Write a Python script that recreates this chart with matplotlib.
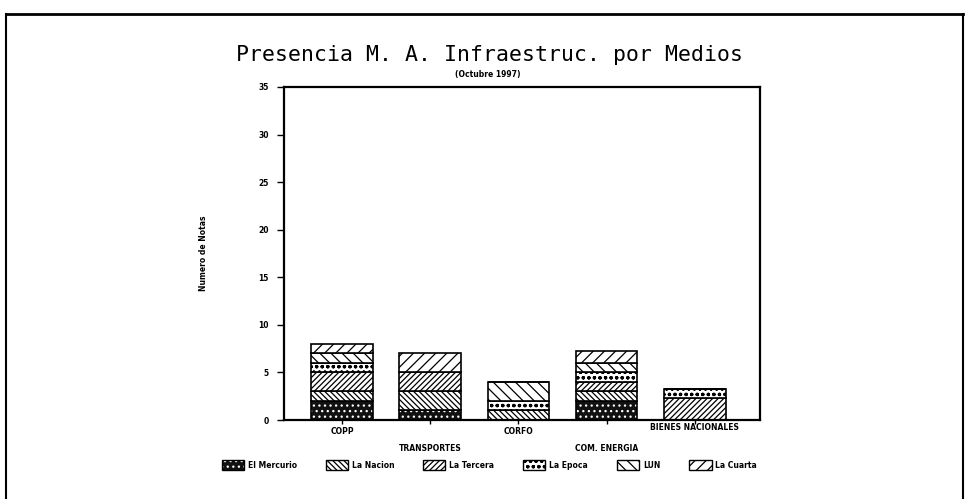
import matplotlib
matplotlib.use("Agg")
import matplotlib.pyplot as plt
from matplotlib.patches import Patch
from matplotlib.lines import Line2D
import numpy as np

categories = ["COPP", "TRANSPORTES", "CORFO", "COM. ENERGIA", "BIENES NACIONALES"]
series_names = ["El Mercurio", "La Nacion", "La Tercera", "La Epoca", "LUN", "La Cuarta"]
el_mercurio = [2, 1, 0, 2, 0]
la_nacion = [1, 2, 1, 1, 0]
la_tercera = [2, 2, 0, 1, 2.3]
la_epoca = [1, 0, 1, 1, 1]
lun = [1, 0, 2, 1, 0]
la_cuarta = [1, 2, 0, 1.3, 0]
yticks = [0, 5, 10, 15, 20, 25, 30, 35]

series = [el_mercurio, la_nacion, la_tercera, la_epoca, lun, la_cuarta]
styles = [
    dict(face="#111111", hatchcol="white", hatch="..."),
    dict(face="white", hatchcol="black", hatch="\\\\\\\\\\\\"),
    dict(face="white", hatchcol="black", hatch="//////"),
    dict(face="white", hatchcol="black", hatch="ooo"),
    dict(face="white", hatchcol="black", hatch="\\\\\\"),
    dict(face="white", hatchcol="black", hatch="///"),
]

plt.rcParams["hatch.linewidth"] = 0.9
fig = plt.figure(figsize=(9.69, 4.99), dpi=100)
ax = fig.add_axes([284/969, 1-420/499, 476/969, 333/499])

x = np.arange(len(categories))
w = 0.7
bottom = np.zeros(len(categories))
for vals, st in zip(series, styles):
    v = np.array(vals, dtype=float)
    ax.bar(x, v, w, bottom=bottom, color=st["face"], edgecolor=st["hatchcol"],
           hatch=st["hatch"], linewidth=0)
    ax.bar(x, v, w, bottom=bottom, fill=False, edgecolor="black", linewidth=1.2)
    bottom += v

ax.set_xlim(-0.66, 4.74)
ax.set_ylim(0, 35)
ax.set_yticks(yticks)
ax.set_yticklabels([str(t) for t in yticks], fontsize=5.5, fontweight="bold")
ax.tick_params(axis="y", direction="out", length=5, width=1, pad=6)
for s in ax.spines.values():
    s.set_linewidth(1.6)

ax.set_xticks(x)
ax.set_xticklabels(categories, fontsize=5.5, fontweight="bold")
ax.tick_params(axis="x", direction="out", length=3, width=1, pad=2)
for i, tick in enumerate(ax.xaxis.get_major_ticks()):
    if i % 2 == 1:
        tick.tick1line.set_markersize(15)
        tick.set_pad(14)
    elif i == 4:
        tick.set_pad(-1)

ax.set_ylabel("Numero de Notas", fontsize=5.5, fontweight="bold", labelpad=36)

fig.text(0.505, 1-55/499, "Presencia M. A. Infraestruc. por Medios",
         ha="center", va="center", fontsize=15.5, family="DejaVu Sans Mono")
fig.text(0.503, 1-75/499, "(Octubre 1997)", ha="center", va="center",
         fontsize=5.5, fontweight="bold")

handles = []
for name, st in zip(series_names, styles):
    p1 = Patch(facecolor=st["face"], edgecolor=st["hatchcol"], hatch=st["hatch"],
               linewidth=0)
    p2 = Patch(fill=False, edgecolor="black", linewidth=1)
    handles.append((p1, p2))
leg = fig.legend(handles=handles, labels=series_names, loc="center",
                 bbox_to_anchor=(0.505, 1-465/499),
                 ncol=6, frameon=False, fontsize=5.5, handlelength=2.9,
                 handleheight=1.5, columnspacing=3.8, handletextpad=0.5)
for t in leg.get_texts():
    t.set_fontweight("bold")

# outer page frame
fig.add_artist(Line2D([6/969, 963/969], [1-14/499, 1-14/499], color="black", lw=2,
                      transform=fig.transFigure))
fig.add_artist(Line2D([6/969, 6/969], [0, 1-14/499], color="black", lw=1.5,
                      transform=fig.transFigure))
fig.add_artist(Line2D([963/969, 963/969], [0, 1-14/499], color="black", lw=1.5,
                      transform=fig.transFigure))

fig.savefig("out.png", dpi=100)
